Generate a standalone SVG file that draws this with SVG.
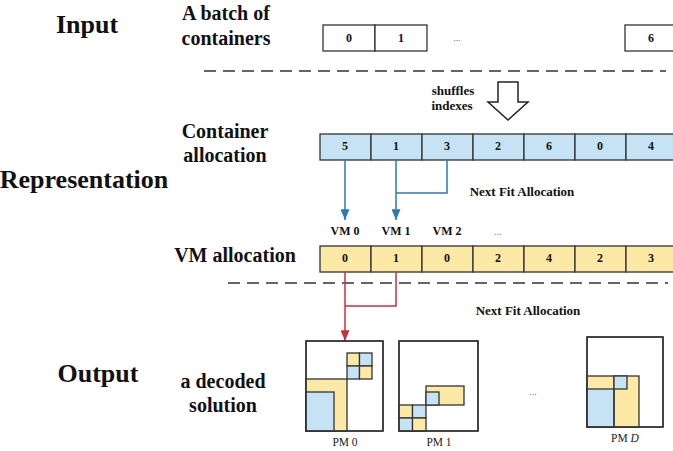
<svg xmlns="http://www.w3.org/2000/svg" width="673" height="451" viewBox="0 0 673 451">
  <style>
    .title { font-family: "Liberation Serif", "Times New Roman", serif; font-weight: bold; font-size: 26px; fill: #111; text-anchor: middle; }
    .sub { font-family: "Liberation Serif", "Times New Roman", serif; font-weight: bold; font-size: 20px; fill: #111; text-anchor: middle; }
    .small { font-family: "Liberation Serif", "Times New Roman", serif; font-weight: bold; font-size: 12px; fill: #111; text-anchor: middle; }
    .note { font-family: "Liberation Serif", "Times New Roman", serif; font-weight: bold; font-size: 13px; fill: #111; text-anchor: middle; }
    .pm { font-family: "Liberation Serif", "Times New Roman", serif; font-size: 11.5px; fill: #222; text-anchor: middle; }
    .dots { font-family: "Liberation Serif", "Times New Roman", serif; font-size: 10px; fill: #777; text-anchor: middle; }
    .cell { stroke: #333; stroke-width: 1.3; }
    .plain { fill: #fff; }
    .blue { fill: #c5e3f5; }
    .yellow { fill: #fde9a6; }
    .box { fill: #fff; stroke: #333; stroke-width: 1.4; }
    .part { stroke: #333; stroke-width: 1.3; }
    .dash { stroke: #333; stroke-width: 1.5; stroke-dasharray: 12 7; fill: none; }
    .flow-blue { stroke: #2a7ab5; stroke-width: 1.5; fill: none; }
    .flow-red { stroke: #c8303e; stroke-width: 1.5; fill: none; }
  </style>
  <defs>
    <marker id="headBlue" viewBox="0 0 12 10" refX="12" refY="5" markerWidth="12" markerHeight="9" markerUnits="userSpaceOnUse" orient="auto">
      <path d="M0,0 L12,5 L0,10 z" fill="#2a7ab5"/>
    </marker>
    <marker id="headRed" viewBox="0 0 12 10" refX="12" refY="5" markerWidth="12" markerHeight="9" markerUnits="userSpaceOnUse" orient="auto">
      <path d="M0,0 L12,5 L0,10 z" fill="#c8303e"/>
    </marker>
  </defs>

  <!-- row headings -->
  <g id="headings">
    <text class="title" x="87" y="33">Input</text>
    <text class="title" x="84" y="188">Representation</text>
    <text class="title" x="98" y="382">Output</text>
    <text class="sub" x="226" y="20">A batch of</text>
    <text class="sub" x="226" y="45">containers</text>
    <text class="sub" x="225" y="138">Container</text>
    <text class="sub" x="225" y="162">allocation</text>
    <text class="sub" x="235" y="262">VM allocation</text>
    <text class="sub" x="223" y="388">a decoded</text>
    <text class="sub" x="223" y="412">solution</text>
  </g>

  <!-- input batch -->
  <g id="input-batch">
    <rect class="cell plain" x="323" y="25" width="52" height="26"/>
    <rect class="cell plain" x="375" y="25" width="52" height="26"/>
    <rect class="cell plain" x="625" y="25" width="52" height="26"/>
    <text class="small" x="349" y="42">0</text>
    <text class="small" x="401" y="42">1</text>
    <text class="dots" x="457" y="41">...</text>
    <text class="small" x="651" y="42">6</text>
  </g>

  <!-- section separators -->
  <g id="separators">
    <line class="dash" x1="204" y1="71" x2="666" y2="71"/>
    <line class="dash" x1="228" y1="283" x2="668" y2="283"/>
  </g>

  <!-- shuffle step -->
  <g id="shuffle">
    <path d="M498,82 L518,82 L518,102 L528,102 L508,120 L488,102 L498,102 Z" fill="#fff" stroke="#222" stroke-width="1.5"/>
    <text class="note" x="453" y="95">shuffles</text>
    <text class="note" x="452" y="110">indexes</text>
  </g>

  <!-- container allocation -->
  <g id="container-allocation">
    <rect class="cell blue" x="320" y="134" width="51" height="26"/>
    <rect class="cell blue" x="371" y="134" width="51" height="26"/>
    <rect class="cell blue" x="422" y="134" width="51" height="26"/>
    <rect class="cell blue" x="473" y="134" width="51" height="26"/>
    <rect class="cell blue" x="524" y="134" width="51" height="26"/>
    <rect class="cell blue" x="575" y="134" width="51" height="26"/>
    <rect class="cell blue" x="626" y="134" width="51" height="26"/>
    <text class="small" x="345" y="150">5</text>
    <text class="small" x="396" y="150">1</text>
    <text class="small" x="447" y="150">3</text>
    <text class="small" x="498" y="150">2</text>
    <text class="small" x="549" y="150">6</text>
    <text class="small" x="600" y="150">0</text>
    <text class="small" x="651" y="150">4</text>
  </g>

  <text class="note" x="522" y="196">Next Fit Allocation</text>

  <!-- VM labels -->
  <g id="vm-labels">
    <text class="small" x="345" y="235">VM 0</text>
    <text class="small" x="396" y="235">VM 1</text>
    <text class="small" x="447" y="235">VM 2</text>
    <text class="dots" x="498" y="235">...</text>
  </g>

  <!-- VM allocation -->
  <g id="vm-allocation">
    <rect class="cell yellow" x="320" y="246" width="51" height="26"/>
    <rect class="cell yellow" x="371" y="246" width="51" height="26"/>
    <rect class="cell yellow" x="422" y="246" width="51" height="26"/>
    <rect class="cell yellow" x="473" y="246" width="51" height="26"/>
    <rect class="cell yellow" x="524" y="246" width="51" height="26"/>
    <rect class="cell yellow" x="575" y="246" width="51" height="26"/>
    <rect class="cell yellow" x="626" y="246" width="51" height="26"/>
    <text class="small" x="345" y="262">0</text>
    <text class="small" x="396" y="262">1</text>
    <text class="small" x="447" y="262">0</text>
    <text class="small" x="498" y="262">2</text>
    <text class="small" x="549" y="262">4</text>
    <text class="small" x="600" y="262">2</text>
    <text class="small" x="651" y="262">3</text>
  </g>

  <text class="note" x="528" y="315">Next Fit Allocation</text>

  <!-- connectors -->
  <g id="connectors">
    <line class="flow-blue" x1="345" y1="160" x2="345" y2="220" marker-end="url(#headBlue)"/>
    <line class="flow-blue" x1="396" y1="160" x2="396" y2="220" marker-end="url(#headBlue)"/>
    <polyline class="flow-blue" points="447,160 447,193 396,193"/>
    <line class="flow-red" x1="345" y1="272" x2="345" y2="341" marker-end="url(#headRed)"/>
    <polyline class="flow-red" points="396,272 396,306 345,306"/>
  </g>

  <!-- PM 0 -->
  <g id="pm-0">
    <rect class="box" x="306" y="341" width="77" height="90"/>
    <rect class="part yellow" x="306" y="379" width="41" height="52"/>
    <rect class="part blue" x="306" y="392" width="28" height="39"/>
    <rect class="part yellow" x="347" y="353" width="12.5" height="13"/>
    <rect class="part blue" x="359.5" y="353" width="12.5" height="13"/>
    <rect class="part blue" x="347" y="366" width="12.5" height="13"/>
    <rect class="part yellow" x="359.5" y="366" width="12.5" height="13"/>
    <rect x="306" y="341" width="77" height="90" fill="none" stroke="#333" stroke-width="1.4"/>
    <text class="pm" x="345" y="446">PM 0</text>
  </g>

  <!-- PM 1 -->
  <g id="pm-1">
    <rect class="box" x="399" y="341" width="79" height="90"/>
    <rect class="part yellow" x="426" y="386" width="38" height="19"/>
    <rect class="part blue" x="426" y="392" width="13" height="13"/>
    <rect class="part yellow" x="399" y="405" width="13.5" height="13"/>
    <rect class="part blue" x="412.5" y="405" width="13.5" height="13"/>
    <rect class="part blue" x="399" y="418" width="13.5" height="13"/>
    <rect class="part yellow" x="412.5" y="418" width="13.5" height="13"/>
    <rect x="399" y="341" width="79" height="90" fill="none" stroke="#333" stroke-width="1.4"/>
    <text class="pm" x="439" y="446">PM 1</text>
  </g>

  <text class="dots" x="533" y="395">...</text>

  <!-- PM D -->
  <g id="pm-d">
    <rect class="box" x="587" y="337" width="76" height="90"/>
    <rect class="part yellow" x="587" y="376" width="52" height="51"/>
    <rect class="part blue" x="587" y="389" width="27" height="38"/>
    <line class="part" x1="614" y1="376" x2="614" y2="427"/>
    <rect class="part blue" x="614" y="376" width="13" height="13"/>
    <rect x="587" y="337" width="76" height="90" fill="none" stroke="#333" stroke-width="1.4"/>
    <text class="pm" x="625" y="442">PM <tspan font-style="italic">D</tspan></text>
  </g>
</svg>
